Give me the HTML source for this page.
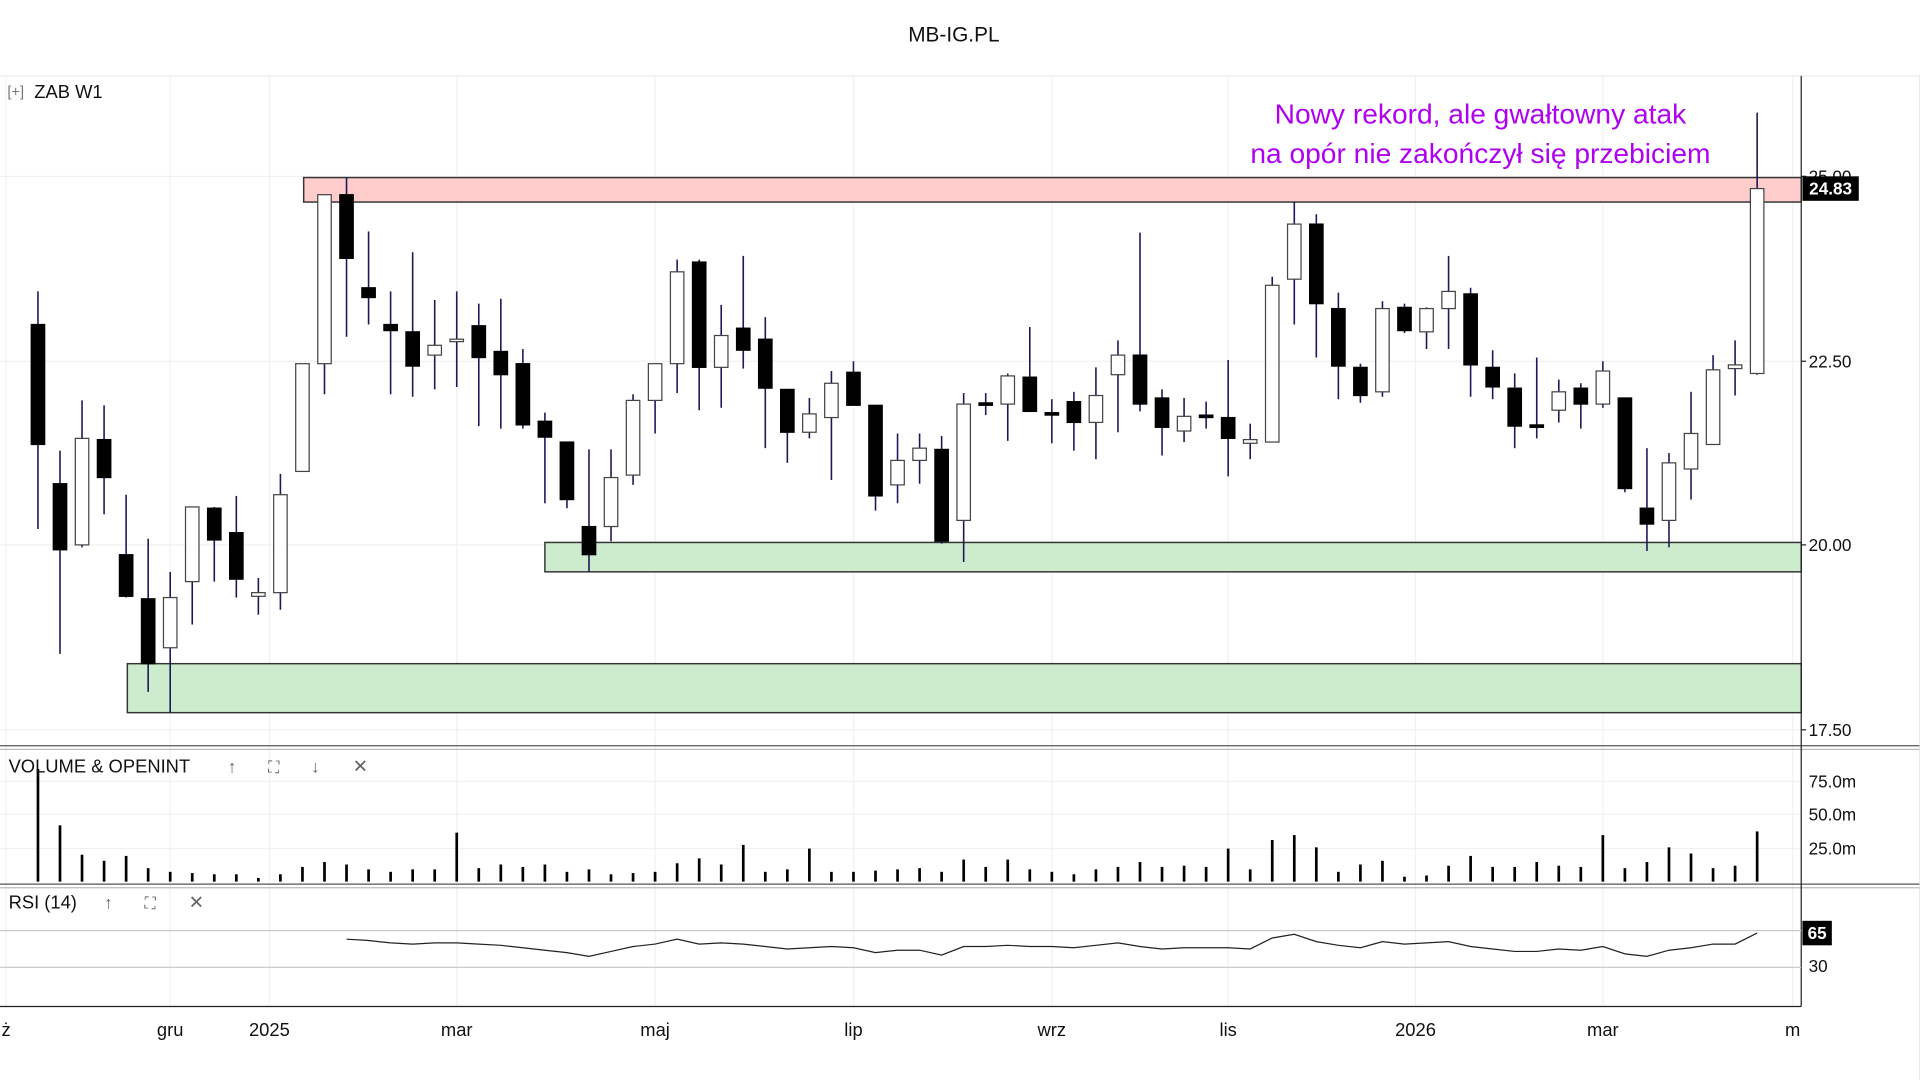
<!DOCTYPE html>
<html><head><meta charset="utf-8"><style>
html,body{margin:0;padding:0;background:#fff;width:1920px;height:1080px;overflow:hidden}
svg{display:block}
text{font-family:"Liberation Sans",sans-serif}
</style></head><body>
<svg id="s" width="1920" height="1080" viewBox="0 0 1568 882" xmlns="http://www.w3.org/2000/svg">
<rect width="1568" height="882" fill="#fff"/>
<text x="779" y="34" font-size="17" text-anchor="middle" fill="#111">MB-IG.PL</text>
<line x1="0" y1="62" x2="1568" y2="62" stroke="#eee"/>
<g id="grid" stroke="#f1f1f1" stroke-width="1"></g>
<rect x="248" y="145" width="1223" height="20" fill="#ffcccc" stroke="#333" stroke-width="1.2"/>
<rect x="445" y="443" width="1026" height="24" fill="#cdebcd" stroke="#333" stroke-width="1.2"/>
<rect x="104" y="542" width="1367" height="40" fill="#cdebcd" stroke="#333" stroke-width="1.2"/>
<g id="candles"></g>
<g id="vol"></g>
<polyline id="rsi" fill="none" stroke="#222" stroke-width="1"/>
<line x1="0" y1="609" x2="1568" y2="609" stroke="#555"/>
<line x1="0" y1="612" x2="1568" y2="612" stroke="#bbb"/>
<line x1="0" y1="722" x2="1568" y2="722" stroke="#555"/>
<line x1="0" y1="725" x2="1568" y2="725" stroke="#bbb"/>
<line x1="0" y1="822" x2="1471" y2="822" stroke="#222"/>
<line x1="1471" y1="62" x2="1471" y2="822" stroke="#222"/>
<line x1="1568" y1="62" x2="1568" y2="882" stroke="#ddd"/>
<g font-size="14" fill="#111">
<text x="1477" y="149">25.00</text>
<text x="1477" y="300">22.50</text>
<text x="1477" y="450">20.00</text>
<text x="1477" y="601">17.50</text>
<text x="1477" y="643">75.0m</text>
<text x="1477" y="670">50.0m</text>
<text x="1477" y="698">25.0m</text>
<text x="1477" y="794">30</text>
</g>
<g stroke="#222"><line x1="1471" y1="144" x2="1475" y2="144"/><line x1="1471" y1="295" x2="1475" y2="295"/><line x1="1471" y1="445" x2="1475" y2="445"/><line x1="1471" y1="596" x2="1475" y2="596"/></g>
<rect x="1472" y="144" width="46" height="20" fill="#000"/>
<text x="1495" y="159" font-size="14" font-weight="bold" fill="#fff" text-anchor="middle">24.83</text>
<rect x="1472" y="752" width="24" height="20" fill="#000"/>
<text x="1484" y="767" font-size="14" font-weight="bold" fill="#fff" text-anchor="middle">65</text>
<line x1="0" y1="760" x2="1471" y2="760" stroke="#ccc"/>
<line x1="0" y1="790" x2="1471" y2="790" stroke="#ccc"/>
<text x="6" y="79" font-size="12" fill="#777">[+]</text>
<text x="28" y="80" font-size="15" fill="#111">ZAB  W1</text>
<text x="7" y="631" font-size="15" fill="#111">VOLUME &amp; OPENINT</text>
<text x="186" y="631" font-size="14" fill="#666">↑</text>
<text x="219" y="631" font-size="13" fill="#666">⛶</text>
<text x="254" y="631" font-size="14" fill="#666">↓</text>
<text x="288" y="631" font-size="15" fill="#666">✕</text>
<text x="7" y="742" font-size="15" fill="#111">RSI (14)</text>
<text x="85" y="742" font-size="14" fill="#666">↑</text>
<text x="118" y="742" font-size="13" fill="#666">⛶</text>
<text x="154" y="742" font-size="15" fill="#666">✕</text>
<g font-size="15" fill="#111" text-anchor="middle">
<text x="5" y="846">ż</text><text x="139" y="846">gru</text><text x="220" y="846">2025</text><text x="373" y="846">mar</text><text x="535" y="846">maj</text><text x="697" y="846">lip</text><text x="859" y="846">wrz</text><text x="1003" y="846">lis</text><text x="1156" y="846">2026</text><text x="1309" y="846">mar</text><text x="1464" y="846">m</text>
</g>
<g font-size="23" fill="#b000f0" text-anchor="middle">
<text x="1209" y="101">Nowy rekord, ale gwałtowny atak</text>
<text x="1209" y="133">na opór nie zakończył się przebiciem</text>
</g>
</svg>
<script>
var NS="http://www.w3.org/2000/svg";
function el(p,t,a){var e=document.createElementNS(NS,t);for(var k in a)e.setAttribute(k,a[k]);p.appendChild(e);return e;}
var g=document.getElementById('grid');
[5,139,220,373,535,697,859,1003,1156,1309,1464].forEach(function(x){el(g,'line',{x1:x,y1:62,x2:x,y2:822});});
[144,295,445,596,638,665,693].forEach(function(y){el(g,'line',{x1:0,y1:y,x2:1471,y2:y});});
var C=[[31,265,363,238,432,1],[49,395,449,368,534,1],[67,358,445,327,447,0],[85,359,390,331,420,1],[103,453,487,404,488,1],[121,489,542,440,565,1],[139,488,529,467,582,0],[157,414,475,414,510,0],[175,415,441,414,475,1],[193,435,473,405,488,1],[211,484,487,472,502,0],[229,404,484,387,498,0],[247,297,385,297,385,0],[265,159,297,159,322,0],[283,159,211,145,275,1],[301,235,243,189,265,1],[319,265,270,238,322,1],[337,271,299,206,324,1],[355,282,290,245,318,0],[373,277,279,238,316,0],[391,266,292,248,348,1],[409,287,306,244,350,1],[427,297,347,285,350,1],[445,344,357,337,411,1],[463,361,408,361,415,1],[481,430,453,367,467,1],[499,390,430,367,442,0],[517,327,388,322,396,0],[535,297,327,297,354,0],[553,222,297,212,321,0],[571,214,300,212,335,1],[589,274,300,249,333,0],[607,268,286,209,301,1],[625,277,317,259,366,1],[643,318,353,320,378,1],[661,338,353,325,358,0],[679,313,341,303,392,0],[697,304,331,295,331,1],[715,331,405,331,417,1],[733,376,396,354,411,0],[751,366,376,354,395,0],[769,367,442,356,444,1],[787,330,425,321,459,0],[805,329,331,321,339,1],[823,307,330,305,360,0],[841,308,336,267,336,1],[859,337,339,326,362,1],[877,328,345,320,368,1],[895,323,345,300,375,0],[913,290,306,278,353,0],[931,290,330,190,336,1],[949,325,349,318,372,1],[967,340,352,325,361,0],[985,339,341,328,350,1],[1003,341,358,294,389,1],[1021,359,362,346,375,0],[1039,233,361,226,361,0],[1057,183,228,165,265,0],[1075,183,248,175,292,1],[1093,252,299,239,326,1],[1111,300,323,297,329,1],[1129,252,320,246,324,0],[1147,251,270,248,272,1],[1165,252,271,251,285,0],[1183,238,252,209,285,0],[1201,240,298,235,324,1],[1219,300,316,286,326,1],[1237,317,348,305,366,1],[1255,347,349,292,358,1],[1273,320,335,310,345,0],[1291,317,330,313,350,1],[1309,303,330,295,333,0],[1327,325,399,325,402,1],[1345,415,428,366,450,1],[1363,378,425,370,447,0],[1381,354,383,320,408,0],[1399,302,363,290,363,0],[1417,298,301,278,323,0],[1435,154,305,92,306,0]];
var cg=document.getElementById('candles');
C.forEach(function(c){
 el(cg,'line',{x1:c[0],y1:c[3],x2:c[0],y2:c[4],stroke:'#1a1a5a','stroke-width':1.3});
 var h=Math.max(c[2]-c[1],2);
 el(cg,'rect',{x:c[0]-5.5,y:c[1],width:11,height:h,fill:c[5]?'#000':'#fff',stroke:c[5]?'#000':'#444','stroke-width':1});
});
var V={31:628,49:674,67:698,85:703,103:699,121:709,139:712,157:713,175:714,193:714,211:717,229:714,247:708,265:704,283:706,301:710,319:712,337:710,355:710,373:680,391:709,409:706,427:708,445:706,463:712,481:710,499:714,517:713,535:712,553:705,571:701,589:706,607:690,625:712,643:710,661:693,679:712,697:712,715:711,733:710,751:709,769:712,787:702,805:708,823:702,841:710,859:712,877:714,895:710,913:708,931:704,949:708,967:707,985:708,1003:693,1021:710,1039:686,1057:682,1075:692,1093:712,1111:706,1129:703,1147:716,1165:715,1183:707,1201:699,1219:708,1237:708,1255:704,1273:707,1291:708,1309:682,1327:709,1345:704,1363:692,1381:697,1399:709,1417:707,1435:679};
var vg=document.getElementById('vol');
for(var x in V){el(vg,'line',{x1:x,y1:V[x],x2:x,y2:720,stroke:'#000','stroke-width':2.2});}
var R=[[283,767],[300,768],[319,770],[337,771],[355,770],[373,770],[391,771],[409,772],[427,774],[445,776],[463,778],[481,781],[499,777],[517,773],[535,771],[553,767],[571,771],[589,770],[607,771],[625,773],[643,775],[661,774],[679,773],[697,774],[715,778],[733,776],[751,776],[769,780],[787,773],[805,773],[823,772],[841,773],[859,773],[877,774],[895,772],[913,770],[931,773],[949,775],[967,774],[985,774],[1003,774],[1021,775],[1039,766],[1057,763],[1075,769],[1093,772],[1111,774],[1129,769],[1147,771],[1165,770],[1183,769],[1201,773],[1219,775],[1237,777],[1255,777],[1273,775],[1291,776],[1309,773],[1327,779],[1345,781],[1363,776],[1381,774],[1399,771],[1417,771],[1435,762]];
document.getElementById('rsi').setAttribute('points',R.map(function(p){return p.join(',');}).join(' '));
</script>
</body></html>
